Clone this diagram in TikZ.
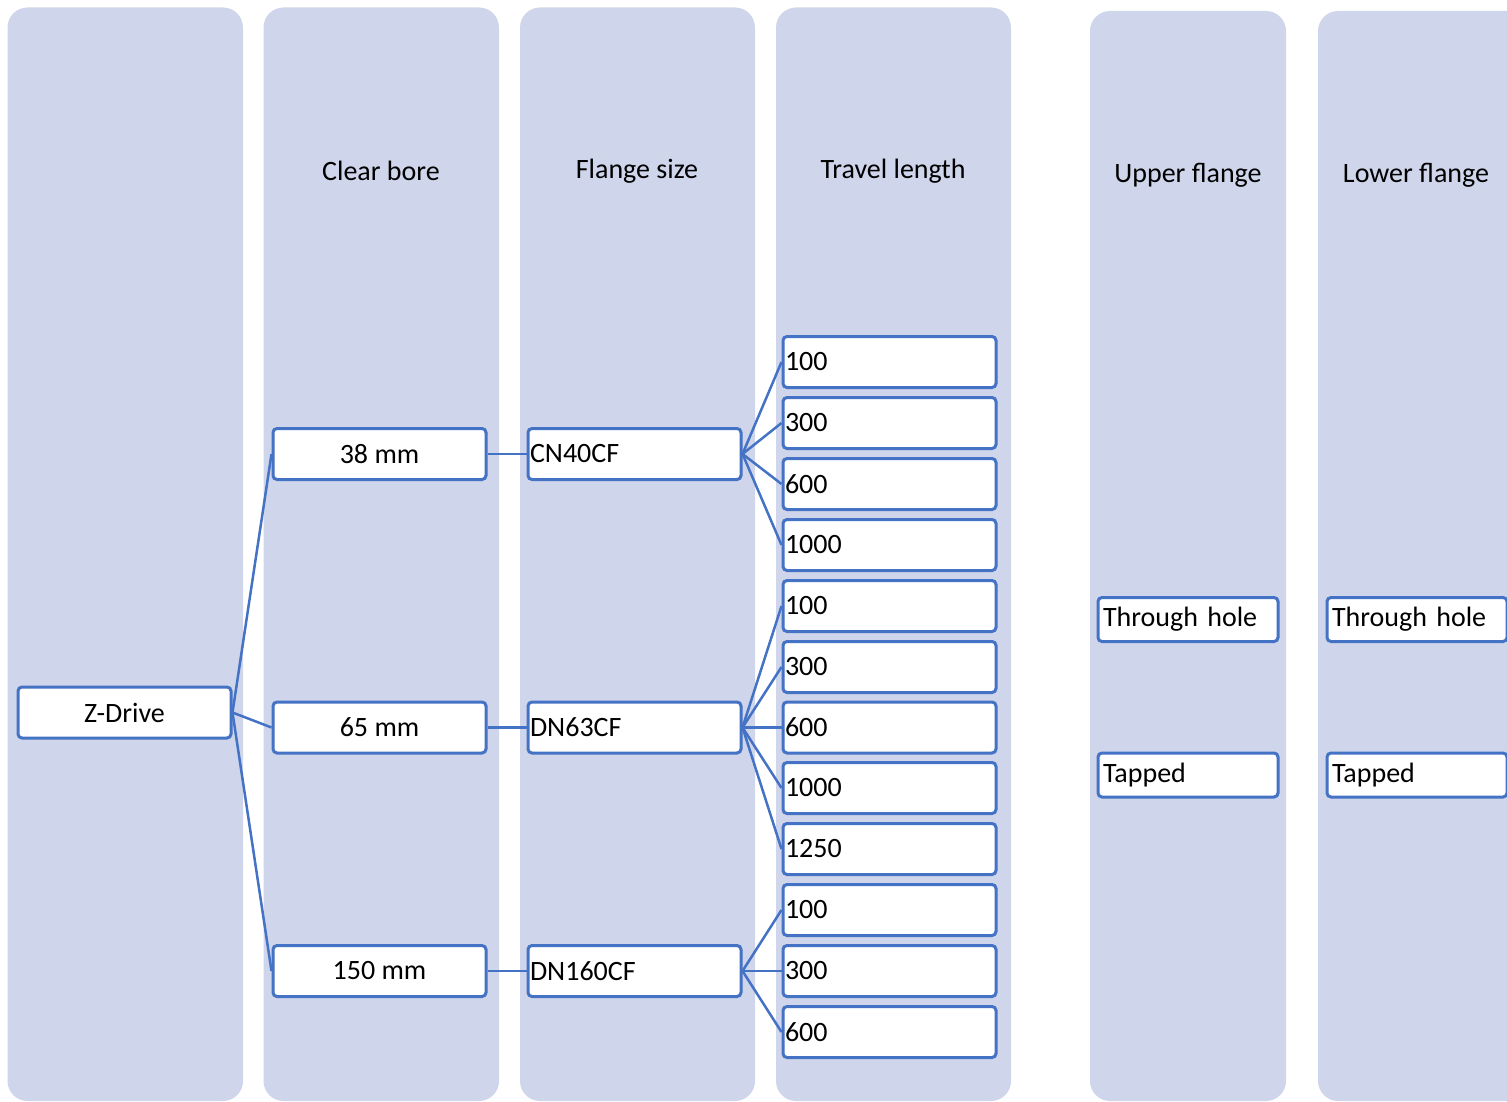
\documentclass[tikz,border=0pt]{standalone}
\usepackage{fontspec}
\setmainfont{Carlito}
\definecolor{colbg}{RGB}{207,213,234}
\definecolor{lineblue}{RGB}{68,114,196}
\begin{document}
\begin{tikzpicture}[x=1pt,y=-1pt,
  colrect/.style={fill=colbg, draw=none, rounded corners=20pt},
  hdr/.style={font=\fontsize{28}{31}\selectfont, inner sep=0pt},
  box/.style={draw=lineblue, line width=3pt, fill=white, rounded corners=4pt, minimum height=51pt, font=\fontsize{28}{31}\selectfont, inner sep=0pt},
  cbox/.style={box, minimum width=213pt},
  lbox/.style={box, text width=209pt, inner xsep=2pt, align=left},
  fbox/.style={box, minimum height=44pt, text width=170pt, inner xsep=5pt, align=left},
  conn/.style={draw=lineblue, line width=2.5pt}]
\useasboundingbox (0,0) rectangle (1507,1102);
\clip (0,0) rectangle (1507,1102);
% columns
\fill[colrect] (7.5,7.5) rectangle (243,1101);
\fill[colrect] (263.5,7.5) rectangle (499,1101);
\fill[colrect] (520,7.5) rectangle (755,1101);
\fill[colrect] (776,7.5) rectangle (1011,1101);
\fill[colrect] (1090,11) rectangle (1286,1101);
\fill[colrect] (1318,11) rectangle (1540,1101);
% headers
\node[hdr] (h1) at (381,171) {Clear bore};
\node[hdr] (h2) at (637,171) {Flange size};
\node[hdr] (h3) at (893,171) {Travel length};
\node[hdr] (h4) at (1188,175) {Upper flange};
\node[hdr] (h5) at (1416,175) {Lower flange};
% nodes
\node[cbox] (zd) at (124.5,712.5) {Z-Drive};
\node[cbox] (b38) at (379.5,454) {38 mm};
\node[cbox] (b65) at (379.5,727.5) {65 mm};
\node[cbox] (b150) at (379.5,971) {150 mm};
\node[lbox] (f40) at (634.5,454) {CN40CF};
\node[lbox] (f63) at (634.5,727.5) {DN63CF};
\node[lbox] (f160) at (634.5,971) {DN160CF};
\node[lbox] (t1) at (889.5,362) {100};
\node[lbox] (t2) at (889.5,423) {300};
\node[lbox] (t3) at (889.5,484) {600};
\node[lbox] (t4) at (889.5,545) {1000};
\node[lbox] (t5) at (889.5,606) {100};
\node[lbox] (t6) at (889.5,667) {300};
\node[lbox] (t7) at (889.5,727.5) {600};
\node[lbox] (t8) at (889.5,788) {1000};
\node[lbox] (t9) at (889.5,849) {1250};
\node[lbox] (t10) at (889.5,910) {100};
\node[lbox] (t11) at (889.5,971) {300};
\node[lbox] (t12) at (889.5,1032) {600};
\node[fbox] (u1) at (1188,619.5) {Through hole};
\node[fbox] (u2) at (1188,775) {Tapped};
\node[fbox] (l1) at (1417,619.5) {Through hole};
\node[fbox] (l2) at (1417,775) {Tapped};
% connectors
\draw[conn] (zd.east) -- (b38.west);
\draw[conn] (zd.east) -- (b65.west);
\draw[conn] (zd.east) -- (b150.west);
\draw[conn] (b38.east) -- (f40.west);
\draw[conn] (b65.east) -- (f63.west);
\draw[conn] (b150.east) -- (f160.west);
\foreach \t in {t1,t2,t3,t4} \draw[conn] (f40.east) -- (\t.west);
\foreach \t in {t5,t6,t7,t8,t9} \draw[conn] (f63.east) -- (\t.west);
\foreach \t in {t10,t11,t12} \draw[conn] (f160.east) -- (\t.west);
\end{tikzpicture}
\end{document}
